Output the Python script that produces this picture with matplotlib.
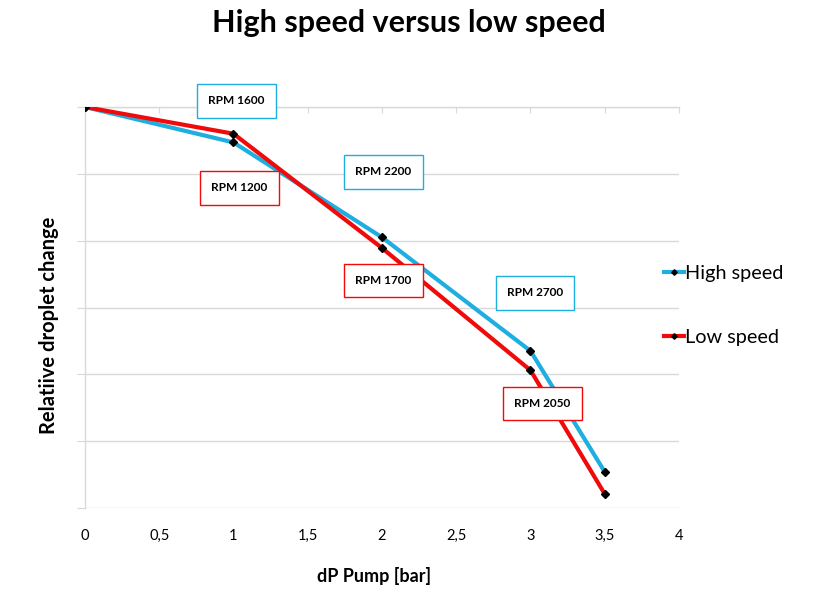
import matplotlib
matplotlib.use("Agg")
import matplotlib.pyplot as plt

plt.rcParams["font.family"] = ["Lato", "DejaVu Sans"]

# pump pressure difference [bar]
dp = [0, 1, 2, 3, 3.5]
# relative droplet change (no units shown, 0..6 grid scale)
high_speed = [6.0, 5.47, 4.05, 2.35, 0.54]
low_speed = [6.0, 5.60, 3.89, 2.06, 0.21]

x_ticks = [0, 0.5, 1, 1.5, 2, 2.5, 3, 3.5, 4]
x_tick_labels = ["0", "0,5", "1", "1,5", "2", "2,5", "3", "3,5", "4"]

# RPM labels: (text, x, y, series)
rpm_labels = [
    ("RPM 1600", 1.02, 6.09, "high"),
    ("RPM 2200", 2.01, 5.03, "high"),
    ("RPM 2700", 3.03, 3.22, "high"),
    ("RPM 1200", 1.04, 4.79, "low"),
    ("RPM 1700", 2.01, 3.40, "low"),
    ("RPM 2050", 3.08, 1.56, "low"),
]

BLUE = "#1EAEE0"
RED = "#F00A0A"
GRID = "#D9D9D9"

fig = plt.figure(figsize=(8.18, 5.99), dpi=100)
ax = fig.add_axes([85 / 818, 1 - 508 / 599, (679 - 85) / 818, (508 - 107) / 599])

ax.plot(dp, high_speed, color=BLUE, lw=3, marker="D", ms=4,
        mfc="black", mec="black", label="High speed", zorder=3)
ax.plot(dp, low_speed, color=RED, lw=3, marker="D", ms=4,
        mfc="black", mec="black", label="Low speed", zorder=3)

for text, x, y, series in rpm_labels:
    ax.text(x, y, text, ha="center", va="center", fontsize=8.5,
            fontweight="bold", zorder=4, clip_on=False,
            bbox=dict(boxstyle="square,pad=0.95", fc="white",
                      ec=BLUE if series == "high" else RED, lw=1))

ax.set_xlim(0, 4)
ax.set_ylim(0, 6)
ax.set_xticks(x_ticks)
ax.set_xticklabels(x_tick_labels)
ax.set_yticks(range(7))
ax.set_yticklabels([])
ax.yaxis.grid(True, color=GRID, lw=1)
ax.set_axisbelow(True)

for side in ["right", "bottom"]:
    ax.spines[side].set_visible(False)
for side in ["left", "top"]:
    ax.spines[side].set_color(GRID)
    ax.spines[side].set_linewidth(1)

ax.tick_params(axis="x", bottom=False, top=True, labelbottom=True,
               labeltop=False, direction="in", length=4, color=GRID,
               labelsize=10.5, pad=15)
ax.tick_params(axis="y", left=True, direction="out", length=6,
               color=GRID)

ax.set_xlabel("dP Pump [bar]", fontsize=13, fontweight="bold")
ax.xaxis.set_label_coords(0.487, -0.148)
ax.set_ylabel("Relatiive droplet change", fontsize=14.5, fontweight="bold")
ax.yaxis.set_label_coords(-0.044, 0.455)

fig.suptitle("High speed versus low speed", fontsize=22,
             fontweight="bold", y=0.985)

fig.legend(loc="center left", bbox_to_anchor=(0.80, 0.49), frameon=False,
           fontsize=14.3, handlelength=1.0, handletextpad=0.05,
           labelspacing=2.4, borderpad=0, markerscale=0.7)

fig.savefig("out.png", dpi=100)
